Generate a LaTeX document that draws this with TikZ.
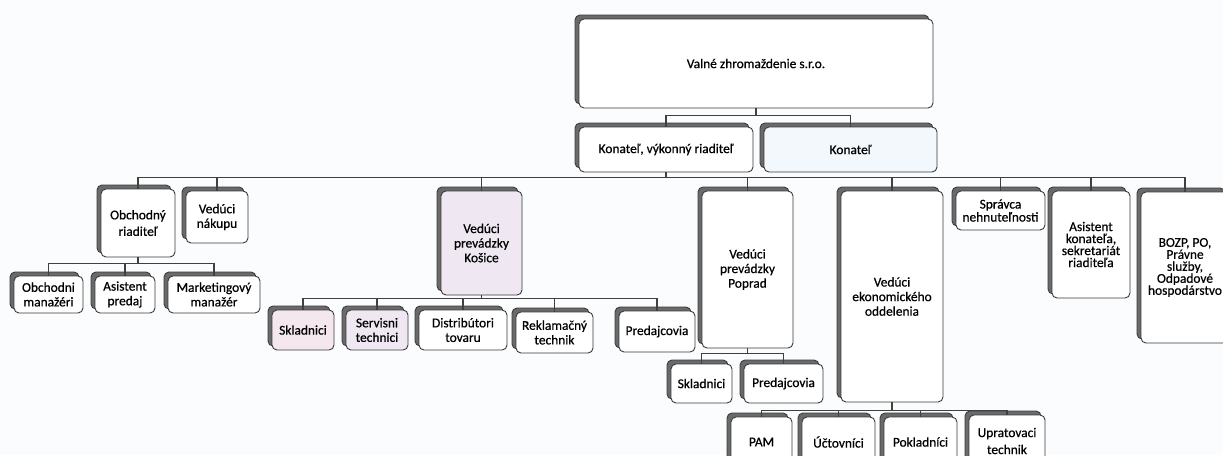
\documentclass[tikz,border=0pt]{standalone}
\usepackage{fontspec}
\setmainfont{Carlito}[FakeBold=0.6]
\usetikzlibrary{shadows}
\definecolor{bgcol}{HTML}{FAFCFD}
\definecolor{cardline}{HTML}{3A3A3A}
\definecolor{shadowfill}{HTML}{6A6A6A}
\definecolor{shadowline}{HTML}{3C3C3C}
\definecolor{connline}{HTML}{404040}
\definecolor{tintlav}{HTML}{EFE8F2}
\definecolor{tintpink}{HTML}{F4E8EE}
\definecolor{tintblue}{HTML}{F2F8FC}
\tikzset{
  card/.style={draw=cardline, line width=0.9pt, fill=white, rounded corners=5pt,
    inner sep=1pt, align=center, font=\fontsize{13.4}{14.6}\selectfont,
    general shadow={shadow xshift=-4pt, shadow yshift=4pt, fill=shadowfill,
      draw=shadowline, line width=0.9pt}},
  conn/.style={draw=connline, line width=1.2pt},
  tight/.style={font=\fontsize{13.4}{12}\selectfont},
}
\begin{document}
\begin{tikzpicture}[x=1pt, y=-1pt]
\useasboundingbox (0,0) rectangle (1223,455);
\clip (0,0) rectangle (1223,455);
\fill[bgcol] (0,0) rectangle (1223,455);

% level 0 and 1
\node[card, minimum width=354pt, minimum height=89pt] (top) at (756,63.5) {Valné zhromaždenie s.r.o.};
\node[card, minimum width=174pt, minimum height=45pt] (kvr) at (666,149.5) {Konateľ, výkonný riaditeľ};
\node[card, fill=tintblue, minimum width=173pt, minimum height=45pt] (kon) at (850.5,149.5) {Konateľ};

% level 2
\node[card, minimum width=74pt, minimum height=68pt, font=\fontsize{13.4}{16.5}\selectfont] (obr) at (138,223) {Obchodný\\riaditeľ};
\node[card, minimum width=62pt, minimum height=52pt] (vn) at (217,217) {Vedúci\\nákupu};
\node[card, fill=tintlav, minimum width=81pt, minimum height=104pt] (kos) at (481.5,243) {Vedúci\\prevádzky\\Košice};
\node[card, minimum width=91pt, minimum height=157pt] (pop) at (747.5,269.5) {Vedúci\\prevádzky\\Poprad};
\node[card, minimum width=102pt, minimum height=211pt] (eko) at (892,296.5) {Vedúci\\ekonomického\\oddelenia};
\node[card, minimum width=89pt, minimum height=39pt, font=\fontsize{13.4}{13}\selectfont] (spr) at (1000.5,210.5) {Správca\\nehnuteľnosti};
\node[card, tight, minimum width=78pt, minimum height=107pt] (ask) at (1091,244.5) {Asistent\\konateľa,\\sekretariát\\riaditeľa};
\node[card, tight, minimum width=88pt, minimum height=151pt] (bozp) at (1185,267.5) {BOZP, PO,\\Právne\\služby,\\Odpadové\\hospodárstvo};

% children of Obchodny riaditel
\node[card, minimum width=69pt, minimum height=37pt] (om) at (48.5,294.5) {Obchodni\\manažéri};
\node[card, minimum width=60pt, minimum height=37pt] (ap) at (125,294.5) {Asistent\\predaj};
\node[card, minimum width=92pt, minimum height=37pt] (mm) at (214,294.5) {Marketingový\\manažér};

% children of Kosice
\node[card, fill=tintpink, minimum width=62pt, minimum height=40pt] (sk1) at (303,330) {Skladnici};
\node[card, fill=tintlav, minimum width=62pt, minimum height=40pt] (st) at (377,330) {Servisni\\technici};
\node[card, minimum width=88pt, minimum height=40pt] (dt) at (463,330) {Distribútori\\tovaru};
\node[card, minimum width=77pt, minimum height=41pt] (rt) at (554.5,332.5) {Reklamačný\\technik};
\node[card, minimum width=76pt, minimum height=41pt] (pr1) at (657,331.5) {Predajcovia};

% children of Poprad
\node[card, minimum width=61pt, minimum height=39pt] (sk2) at (701.5,383.5) {Skladnici};
\node[card, minimum width=79pt, minimum height=39pt] (pr2) at (783.5,383.5) {Predajcovia};

% children of ekonomicke oddelenie
\node[card, minimum width=61pt, minimum height=50pt] (pam) at (761.5,442) {PAM};
\node[card, minimum width=73pt, minimum height=50pt] (uc) at (838.5,442) {Účtovníci};
\node[card, minimum width=73pt, minimum height=50pt] (pok) at (920.5,442) {Pokladníci};
\node[card, minimum width=76pt, minimum height=52pt, font=\fontsize{13.4}{17}\selectfont] (up) at (1007,441) {Upratovaci\\technik};

% connectors
\foreach \c in {kvr,kon} \draw[conn] (top.south) -- ++(0,7) -| (\c.north);
\foreach \c in {obr,vn,kos,pop,eko,spr,ask,bozp} \draw[conn] (kvr.south) -- ++(0,5) -| (\c.north);
\foreach \c in {om,ap,mm} \draw[conn] (obr.south) -- ++(0,6) -| (\c.north);
\foreach \c in {sk1,st,dt,rt,pr1} \draw[conn] (kos.south) -- ++(0,3) -| (\c.north);
\foreach \c in {sk2,pr2} \draw[conn] (pop.south) -- ++(0,5) -| (\c.north);
\foreach \c in {pam,uc,pok,up} \draw[conn] (eko.south) -- ++(0,8) -| (\c.north);
\end{tikzpicture}
\end{document}
